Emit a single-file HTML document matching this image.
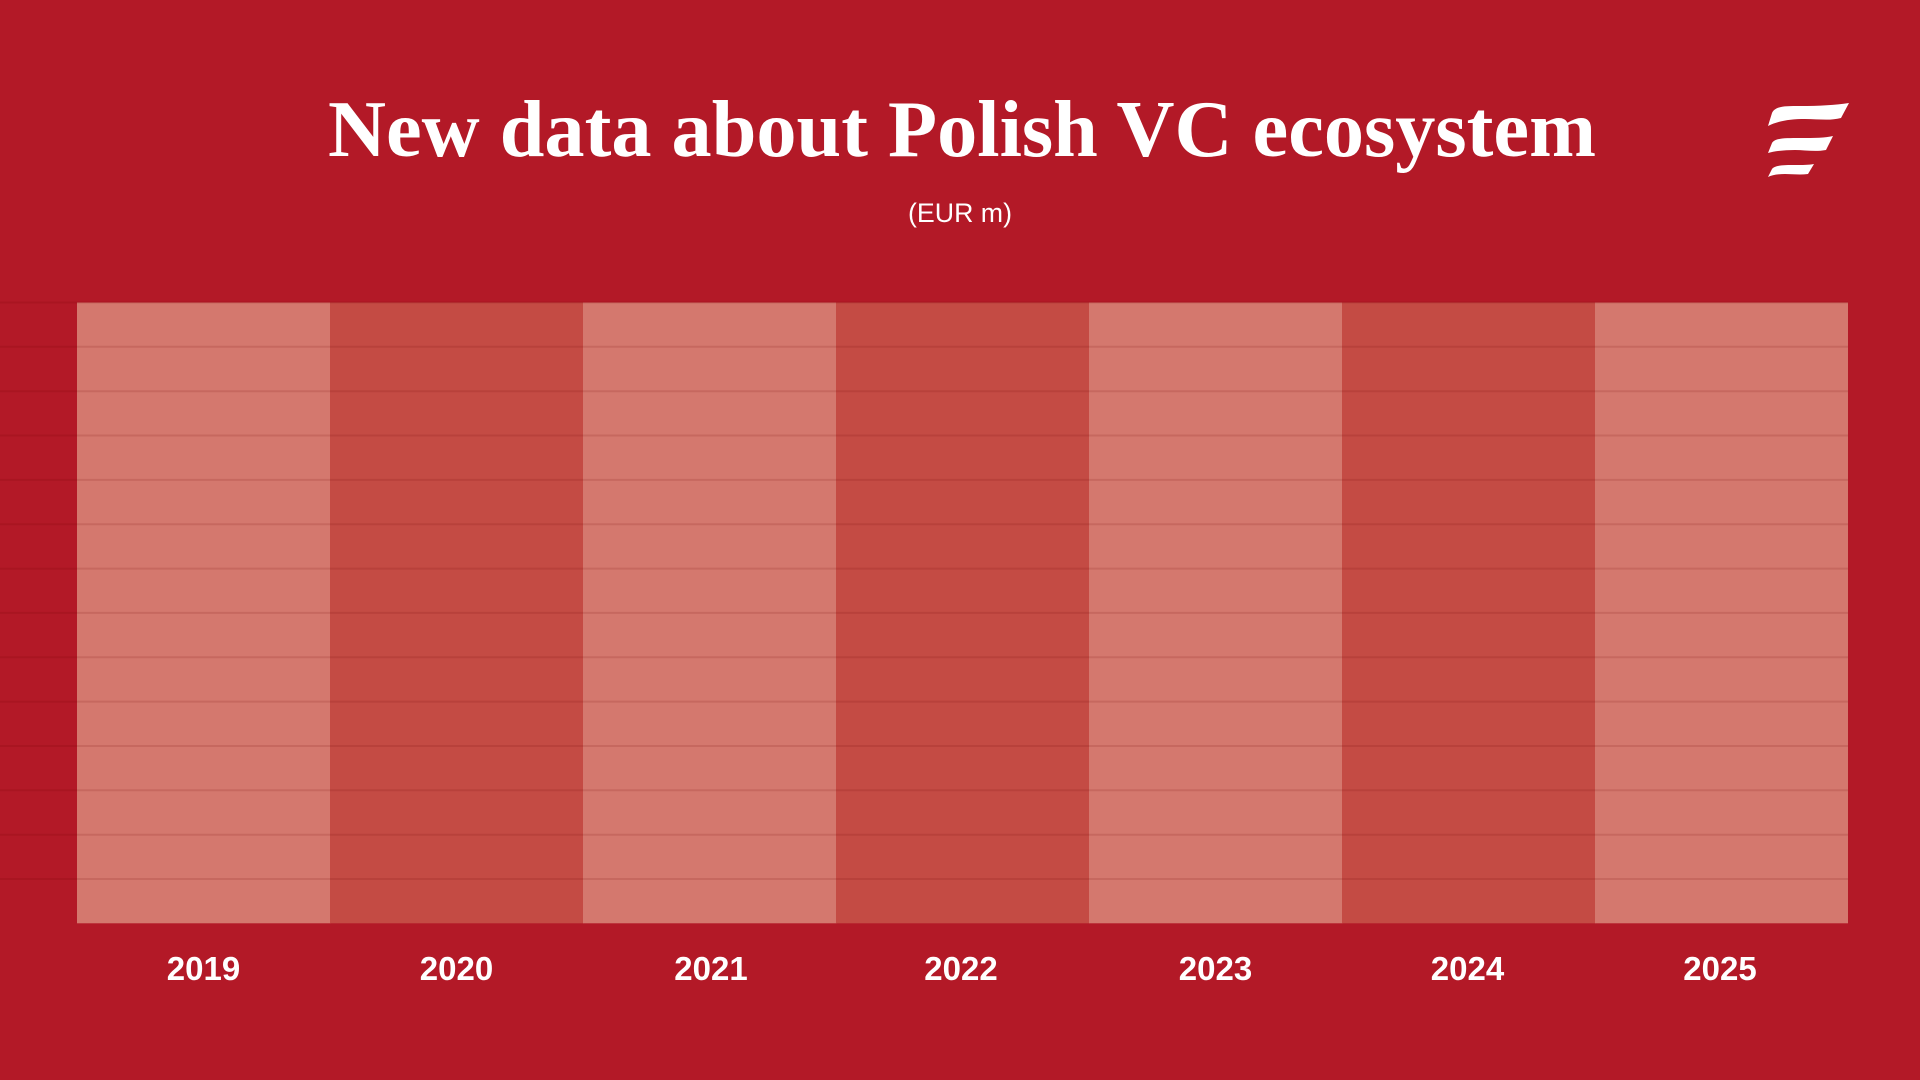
<!DOCTYPE html>
<html>
<head>
<meta charset="utf-8">
<style>
  html, body { margin: 0; padding: 0; background: #B31927; }
  body { width: 1920px; height: 1080px; overflow: hidden; }
  svg { display: block; }
</style>
</head>
<body>
<svg width="1920" height="1080" viewBox="0 0 1920 1080" xmlns="http://www.w3.org/2000/svg">
  <rect x="0" y="0" width="1920" height="1080" fill="#B31927"/>

  <!-- Title -->
  <text x="962" y="156" text-anchor="middle" font-family="'Liberation Serif', serif" font-weight="bold" font-size="80" fill="#FFFFFF" textLength="1268" lengthAdjust="spacingAndGlyphs">New data about Polish VC ecosystem</text>
  <!-- Subtitle -->
  <text x="960" y="222" text-anchor="middle" font-family="'Liberation Sans', sans-serif" font-size="27" fill="#FFFFFF" textLength="104" lengthAdjust="spacingAndGlyphs">(EUR m)</text>

  <!-- Logo -->
  <g fill="#FFFFFF">
    <path d="M1772,113 C1775,106 1785,106 1800,106 C1820,106 1835,105 1849,103 L1841,118 C1830,121 1818,119 1805,119 C1790,119 1778,121 1768,126 Z"/>
    <path d="M1772,143 C1775,138 1785,138 1800,138 C1815,138 1825,138 1833,136 L1826,150 C1815,152 1805,150 1795,150 C1785,150 1775,151 1768,153 Z"/>
    <path d="M1772,169 C1775,165 1785,165 1795,165 C1803,165 1808,165 1814,164 L1808,174 C1800,175 1792,174 1785,174 C1778,174 1772,175 1768,177 Z"/>
  </g>

  <!-- Columns -->
  <rect x="77"   y="302.5" width="253.5" height="620.8" fill="#D4786E"/>
  <rect x="330"  y="302.5" width="253.5" height="620.8" fill="#C44B44"/>
  <rect x="583"  y="302.5" width="253.5" height="620.8" fill="#D4786E"/>
  <rect x="836"  y="302.5" width="253.5" height="620.8" fill="#C44B44"/>
  <rect x="1089" y="302.5" width="253.5" height="620.8" fill="#D4786E"/>
  <rect x="1342" y="302.5" width="253.5" height="620.8" fill="#C44B44"/>
  <rect x="1595" y="302.5" width="253"   height="620.8" fill="#D4786E"/>

  <!-- Grid lines -->
  <g stroke="rgba(110,0,0,0.13)" stroke-width="2">
    <line x1="0" x2="1848" y1="302.5" y2="302.5"/>
    <line x1="0" x2="1848" y1="346.8" y2="346.8"/>
    <line x1="0" x2="1848" y1="391.2" y2="391.2"/>
    <line x1="0" x2="1848" y1="435.5" y2="435.5"/>
    <line x1="0" x2="1848" y1="479.9" y2="479.9"/>
    <line x1="0" x2="1848" y1="524.2" y2="524.2"/>
    <line x1="0" x2="1848" y1="568.6" y2="568.6"/>
    <line x1="0" x2="1848" y1="612.9" y2="612.9"/>
    <line x1="0" x2="1848" y1="657.3" y2="657.3"/>
    <line x1="0" x2="1848" y1="701.6" y2="701.6"/>
    <line x1="0" x2="1848" y1="746.0" y2="746.0"/>
    <line x1="0" x2="1848" y1="790.3" y2="790.3"/>
    <line x1="0" x2="1848" y1="834.7" y2="834.7"/>
    <line x1="0" x2="1848" y1="879.0" y2="879.0"/>
  </g>

  <!-- Year labels -->
  <g font-family="'Liberation Sans', sans-serif" font-weight="bold" font-size="33" fill="#FFFFFF" text-anchor="middle">
    <text x="203.5" y="980">2019</text>
    <text x="456.5" y="980">2020</text>
    <text x="711" y="980">2021</text>
    <text x="961" y="980">2022</text>
    <text x="1215.5" y="980">2023</text>
    <text x="1467.5" y="980">2024</text>
    <text x="1720" y="980">2025</text>
  </g>
</svg>
</body>
</html>
